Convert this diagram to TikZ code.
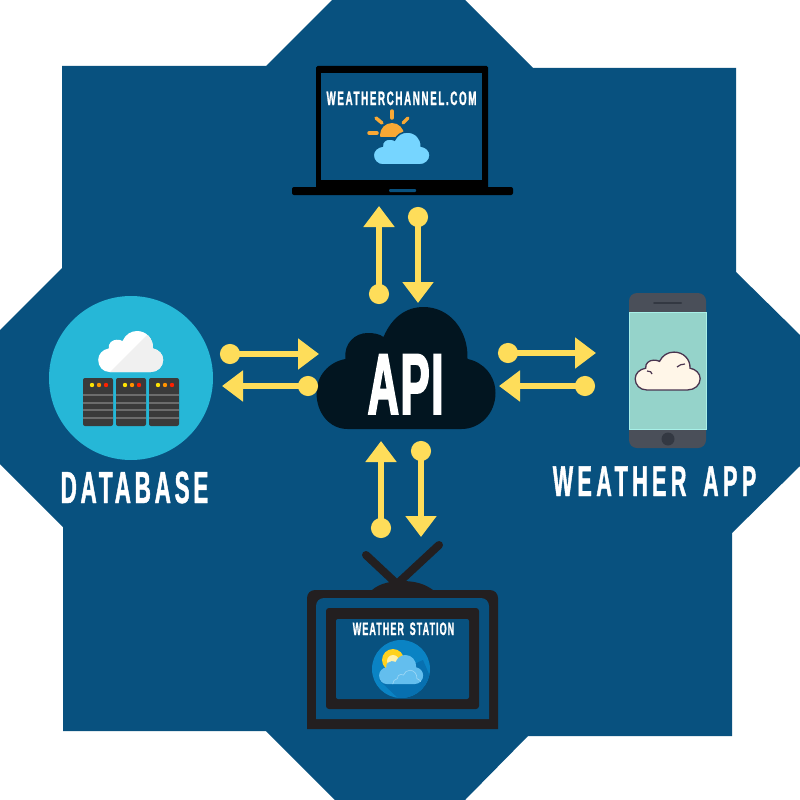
\documentclass[tikz,border=0pt]{standalone}
\usepackage{fontspec}
\usetikzlibrary{arrows.meta}
\newfontfamily\condfont[FakeStretch=0.5,FakeBold=1,WordSpace=1.6]{Liberation Sans Bold}
\newfontfamily\apifont[FakeStretch=0.5,FakeBold=2,LetterSpace=2]{Liberation Sans Bold}
\newcommand{\signfont}[2]{\condfont\fontsize{#1}{#1}\selectfont\addfontfeature{LetterSpace=#2}}
\newcommand{\cloudpath}{(-58,61) .. controls (-76,61) and (-89,45) .. (-89,25)
    .. controls (-89,8) and (-77,-6) .. (-60,-9)
    .. controls (-62,-25) and (-50,-35) .. (-38,-35)
    .. controls (-31,-35) and (-26,-34) .. (-22,-31)
    .. controls (-14,-50) and (0,-61) .. (18,-61)
    .. controls (44,-61) and (63,-38) .. (62,-9)
    .. controls (78,-6) and (90,8) .. (90,25)
    .. controls (90,45) and (75,61) .. (56,61) -- cycle}
\definecolor{seablue}{RGB}{8,81,127}
\definecolor{flowyellow}{RGB}{254,221,90}
\definecolor{dbcyan}{RGB}{38,183,215}
\definecolor{rackgray}{RGB}{58,58,58}
\definecolor{tvdark}{RGB}{35,31,32}
\definecolor{sunorange}{RGB}{249,168,52}
\definecolor{skyblue}{RGB}{118,213,255}
\definecolor{phonegray}{RGB}{74,79,89}
\definecolor{phonedark}{RGB}{51,56,66}
\definecolor{phonescreen}{RGB}{149,211,202}
\definecolor{phoneedge}{RGB}{168,240,232}
\definecolor{cloudcream}{RGB}{255,246,232}
\definecolor{cloudedge}{RGB}{74,53,80}
\definecolor{apidark}{RGB}{2,21,32}
\definecolor{iconblue}{RGB}{10,131,196}
\definecolor{iconshade}{RGB}{7,112,176}
\definecolor{iconcloud}{RGB}{99,190,238}
\definecolor{iconline}{RGB}{154,214,245}
\definecolor{iconsun}{RGB}{255,210,30}
\definecolor{iconglow}{RGB}{255,240,170}
\tikzset{
    flow/.style={draw=flowyellow, line width=6pt, {Circle[length=20pt]}-{Triangle[length=21pt, width=30pt]}},
    sign/.style={text=white, inner sep=0pt, anchor=base},
    ray/.style={draw=sunorange, line width=3.5pt, line cap=round}
}

\begin{document}
\begin{tikzpicture}[x=1pt, y=-1pt]
    \useasboundingbox (0,0) rectangle (800,800);
    \fill[white] (0,0) rectangle (800,800);
    % Draw the blue backdrop
    \fill[seablue] (332,0) -- (465,0) -- (533,68) -- (736,68) -- (736,272) -- (800,335)
        -- (800,466) -- (732,533) -- (732,736) -- (528,736) -- (465,800) -- (335,800)
        -- (266,731) -- (63,731) -- (63,527) -- (0,464) -- (0,330) -- (62,268) -- (62,66)
        -- (266,66) -- cycle;

    % Laptop
    \fill[black, rounded corners=1.5pt] (316,66) rectangle (488,190);
    \fill[seablue] (321,73) rectangle (482,180);
    \fill[black, rounded corners=2pt] (292,187) rectangle (513,195);
    \fill[seablue, rounded corners=1pt] (389,189) rectangle (416,192);
    \begin{scope}
        \clip (375,118) rectangle (410,136);
        \fill[sunorange] (392,135) circle[radius=12];
    \end{scope}
    \draw[ray] (392,111) -- (392,118);
    \draw[ray] (376,118) -- (382,123);
    \draw[ray] (408,118) -- (403,123);
    \draw[ray] (369,133) -- (377,133);
    \begin{scope}[shift={(401.5,148.5)}, xscale=0.318, yscale=0.27]
        \fill[skyblue, draw=seablue, line width=1.5pt] \cloudpath;
    \end{scope}
    \node[sign, font=\signfont{19.5}{8.5}] (weblabel) at (401.5,105) {WEATHERCHANNEL.COM};

    % Database
    \fill[dbcyan] (131,378) circle[radius=82];
    \begin{scope}[shift={(130.5,351.5)}, xscale=0.363, yscale=0.336]
        \fill[white] \cloudpath;
    \end{scope}
    \begin{scope}
        \clip[shift={(130.5,351.5)}, xscale=0.363, yscale=0.336] \cloudpath;
        \fill[black!6] (147,335) -- (110,372) -- (170,372) -- (170,335) -- cycle;
    \end{scope}
    \foreach \x in {83,116,149} {
        \fill[rackgray, rounded corners=2pt] (\x,378) rectangle ++(30,48);
        \fill[yellow!85!orange] (\x+9,385) circle[radius=2.2];
        \fill[orange!85!yellow] (\x+16,385) circle[radius=2.2];
        \fill[red!75!orange] (\x+23,385) circle[radius=2.2];
        \foreach \y in {394,402,409,417} \fill[gray!85!black] (\x,\y) rectangle ++(30,2);
    }
    \node[sign, font=\signfont{45}{8.3}] (dblabel) at (134.5,503) {DATABASE};

    % Phone
    \fill[phonegray, rounded corners=8pt] (629,293) rectangle (706,448);
    \fill[phonescreen, draw=phoneedge, line width=0.8pt] (629,312) rectangle (706,429);
    \draw[phonedark, line width=2pt, line cap=round] (654,303) -- (681,303);
    \fill[phonedark] (668,439) circle[radius=6.5];
    \begin{scope}[shift={(667.5,371)}, xscale=0.363, yscale=0.31]
        \fill[cloudcream, draw=cloudedge, line width=1.3pt] \cloudpath;
    \end{scope}
    \draw[cloudedge, line width=1.2pt] (652,374) .. controls (652,372) and (650,371) .. (647,371);
    \draw[cloudedge, line width=1.2pt] (677,367) .. controls (679,365) and (682,364) .. (685,364);
    \node[sign, font=\signfont{43}{10.3}] (applabel) at (654.5,496) {WEATHER APP};

    % Television
    \draw[tvdark, line width=8pt, line cap=round] (366,555) -- (397,584) -- (439,545);
    \fill[tvdark] (372,590) .. controls (380,583) and (392,581) .. (402,581)
        .. controls (415,581) and (425,584) .. (433,590) -- cycle;
    \fill[tvdark] (307,729) [rounded corners=8pt] -- (307,590) -- (498,590) [sharp corners] -- (498,729) -- cycle;
    \fill[seablue] (316,719) [rounded corners=8pt] -- (316,598) -- (489,598) [sharp corners] -- (489,719) -- cycle;
    \fill[tvdark, rounded corners=3pt] (326,608) rectangle (479,709);
    \fill[seablue, rounded corners=2pt] (336,619) rectangle (469,699);
    \fill[iconblue] (401,669) circle[radius=29];
    \begin{scope}
        \clip (401,669) circle[radius=29];
        \fill[iconshade] (379,680) -- (423,660) -- (440,700) -- (400,700) -- cycle;
    \end{scope}
    \fill[iconsun] (393,660) circle[radius=11];
    \fill[iconglow] (393,661) circle[radius=6];
    \begin{scope}[shift={(401,669.5)}, xscale=0.246, yscale=0.238]
        \fill[iconcloud] \cloudpath;
    \end{scope}
    \begin{scope}
        \clip[shift={(401,669.5)}, xscale=0.246, yscale=0.238] \cloudpath;
        \draw[iconline, line width=0.7pt, shift={(407,680)}, xscale=0.16, yscale=0.16] \cloudpath;
    \end{scope}
    \node[sign, font=\signfont{18}{5.9}] (tvlabel) at (403.5,635) {WEATHER STATION};

    % API cloud in the middle
    \begin{scope}[shift={(405.5,368)}]
        \fill[apidark] \cloudpath;
    \end{scope}
    \node[sign, font=\apifont\fontsize{86.6}{86.6}\selectfont] (apilabel) at (405.5,414) {API};

    % Arrows to and from the cloud
    \foreach \name/\ax/\ay/\bx/\by in {webup/379/304/379/206, webdown/418/207/418/303,
        dbin/220/354/319/354, dbout/318/386/222/386,
        appout/498/353/596/353, appin/595/386/499/386,
        tvup/381/538/381/441, tvdown/421/441/421/537} {
        \coordinate (\name a) at (\ax,\ay);
        \coordinate (\name b) at (\bx,\by);
        \draw[flow] (\name a) -- (\name b);
    }
\end{tikzpicture}
\end{document}
